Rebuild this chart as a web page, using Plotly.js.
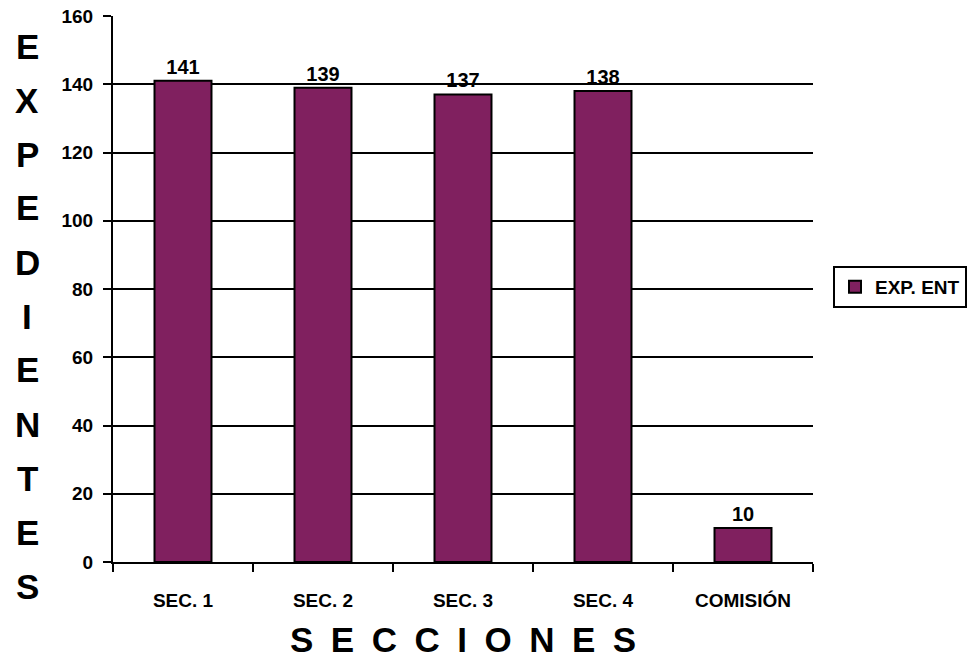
<!DOCTYPE html>
<html>
<head>
<meta charset="utf-8">
<script src="https://cdn.plot.ly/plotly-3.0.1.min.js"></script>
<style>html,body{margin:0;padding:0;background:#fff;}#chart{width:968px;height:661px;}</style>
</head>
<body>
<div id="chart"></div>
<script>
var categories = ["SEC. 1", "SEC. 2", "SEC. 3", "SEC. 4", "COMISIÓN"];
var values = [141, 139, 137, 138, 10];
var seriesName = "EXP. ENT";
var yTickVals = [0, 20, 40, 60, 80, 100, 120, 140, 160];
var yTitleLetters = ["E", "X", "P", "E", "D", "I", "E", "N", "T", "E", "S"];
var xTitle = "S E C C I O N E S";

var FONT = "Arial, 'Liberation Sans', sans-serif";
var plotLeft = 113, plotW = 700;
var plotTop = 16, plotBottom = 562, plotH = plotBottom - plotTop;

var annotations = yTitleLetters.map(function (ch, i) {
  var yc = 46 + 54 * i;
  return {
    text: "<b>" + ch + "</b>",
    xref: "paper", yref: "paper",
    x: (27 - plotLeft) / plotW, y: (plotBottom - yc) / plotH,
    xanchor: "center", yanchor: "middle",
    showarrow: false,
    font: {family: FONT, size: 35, color: "#000"}
  };
});
annotations.push({
  text: "<b>" + xTitle.split(" ").join("\u2002") + "</b>",
  xref: "paper", yref: "paper",
  x: (463 - plotLeft) / plotW, y: (plotBottom - 639) / plotH,
  xanchor: "center", yanchor: "middle",
  showarrow: false,
  font: {family: FONT, size: 35, color: "#000"}
});

var trace = {
  type: "bar",
  x: categories,
  y: values,
  name: seriesName,
  text: values.map(function (v) { return "<b>" + v + "</b>"; }),
  textposition: "outside",
  textfont: {family: FONT, size: 20, color: "#000"},
  cliponaxis: false,
  marker: {color: "#80205F", line: {color: "#000", width: 2}},
  showlegend: true
};

var layout = {
  width: 968, height: 661,
  margin: {l: plotLeft, r: 968 - plotLeft - plotW, t: plotTop, b: 661 - plotBottom, autoexpand: false},
  paper_bgcolor: "#fff", plot_bgcolor: "#fff",
  font: {family: FONT, color: "#000"},
  bargap: 0.593,
  showlegend: true,
  legend: {
    x: (833 - plotLeft) / plotW, y: (plotBottom - 287) / plotH,
    xanchor: "left", yanchor: "middle",
    bordercolor: "#000", borderwidth: 2,
    font: {family: FONT, size: 19, color: "#000", weight: "bold"},
    itemwidth: 30
  },
  xaxis: {
    type: "category",
    showline: true, linecolor: "#000", linewidth: 2,
    ticks: "outside", tickson: "boundaries", ticklen: 8, tickwidth: 2, tickcolor: "#000",
    tickfont: {family: FONT, size: 19, color: "#000", weight: "bold"},
    ticklabelstandoff: 20,
    showgrid: false, zeroline: false
  },
  yaxis: {
    range: [0, 160],
    tickvals: yTickVals,
    showline: true, linecolor: "#000", linewidth: 2,
    ticks: "outside", ticklen: 8, tickwidth: 2, tickcolor: "#000",
    tickfont: {family: FONT, size: 19, color: "#000", weight: "bold"},
    ticklabelstandoff: 6,
    showgrid: true, gridcolor: "#000", gridwidth: 2,
    zeroline: false
  },
  annotations: annotations
};

Plotly.newPlot("chart", [trace], layout, {displayModeBar: false, staticPlot: true});
</script>
</body>
</html>
